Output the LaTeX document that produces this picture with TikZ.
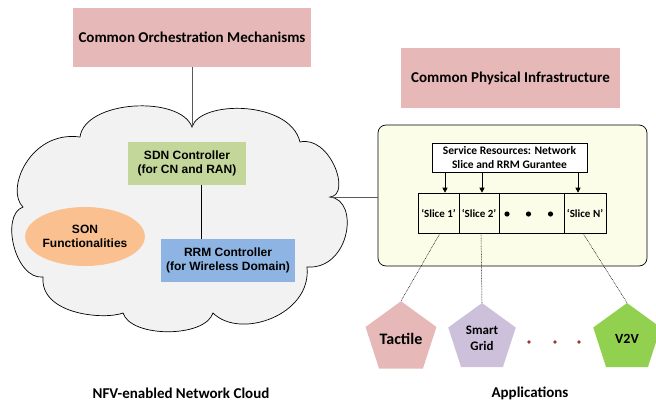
\documentclass[tikz,border=0pt]{standalone}
\usepackage{fontspec}
\setmainfont{Carlito}
\newfontfamily\arialf{Liberation Sans}
\usetikzlibrary{shapes.geometric,arrows.meta}
\definecolor{pinkbox}{HTML}{E6B8B7}
\definecolor{cloudfill}{HTML}{F2F2F2}
\definecolor{sdngreen}{HTML}{C4D79B}
\definecolor{rrmblue}{HTML}{8DB4E2}
\definecolor{sonorange}{HTML}{FAC090}
\definecolor{infrayellow}{HTML}{FCFDE8}
\definecolor{gridlav}{HTML}{CCC0DA}
\definecolor{v2vgreen}{HTML}{92D050}
\definecolor{dotred}{HTML}{A0362F}
\definecolor{linegray}{HTML}{595959}
\begin{document}
\begin{tikzpicture}[x=1pt,y=-1pt,
  titlebox/.style={fill=pinkbox, inner sep=0pt, font=\fontsize{15}{17}\selectfont\bfseries},
  ctrlbox/.style={inner sep=0pt, align=center, font=\arialf\bfseries\fontsize{12}{14.5}\selectfont},
  cellbox/.style={draw, line width=0.6pt, minimum height=40pt, inner sep=0pt, font=\fontsize{11}{13}\selectfont\bfseries},
  pent/.style={regular polygon, regular polygon sides=5, minimum size=71pt, inner sep=0pt, align=center, font=\fontsize{14}{15}\selectfont\bfseries},
  conn/.style={draw=linegray, line width=0.9pt},
  arr/.style={line width=0.6pt, -{Triangle[length=5pt,width=5pt]}},
  dotln/.style={line width=0.5pt, dash pattern=on 0.8pt off 0.8pt},
  caption/.style={inner sep=0pt, font=\fontsize{15}{17}\selectfont\bfseries}
]
\useasboundingbox (0,0) rectangle (656,405);

% Cloud
\coordinate (cTop) at (192,127);
\coordinate (cRight) at (330,197);
\draw[fill=cloudfill, line width=0.7pt]
  (192,127) .. controls (200,100) and (290,100) .. (300,142)
  .. controls (330,135) and (352,195) .. (330,197)
  .. controls (360,200) and (350,270) .. (307,267)
  .. controls (312,315) and (240,340) .. (213,313)
  .. controls (205,338) and (131,338) .. (123,313)
  .. controls (105,320) and (40,315) .. (43,277)
  .. controls (15,280) and (0,215) .. (23,207)
  .. controls (5,190) and (30,130) .. (80,137)
  .. controls (85,100) and (180,95) .. (192,127) -- cycle;

% Top boxes
\node[titlebox, minimum width=238pt, minimum height=59pt] (orch) at (192,37.5) {Common Orchestration Mechanisms};
\node[titlebox, minimum width=219pt, minimum height=60pt] (phys) at (510.5,78) {Common Physical Infrastructure};

\draw[conn] (orch.south) -- (cTop);

% Cloud contents
\node[ctrlbox, fill=sdngreen, minimum width=118pt, minimum height=43pt] (sdn) at (187,163.5) {SDN Controller\\(for CN and RAN)};
\node[ctrlbox, fill=rrmblue, minimum width=134pt, minimum height=43pt] (rrm) at (228,260.5) {RRM Controller\\(for Wireless Domain)};
\node[ctrlbox, ellipse, fill=sonorange, minimum width=106pt, minimum height=59pt] (son) at (85,236.5) {SON\\Functionalities};
\draw[line width=0.7pt] (sdn.south -| 201,0) -- (rrm.north -| 201,0);

% Infrastructure box
\node[draw, line width=0.7pt, rounded corners=8pt, fill=infrayellow, minimum width=269pt, minimum height=141pt, inner sep=0pt] (infra) at (512.5,195.5) {};
\draw[conn] (cRight) -- (cRight -| infra.west);

\node[draw, line width=0.6pt, fill=white, minimum width=155pt, minimum height=29pt, inner sep=0pt, align=center, font=\fontsize{11.5}{14.5}\selectfont\bfseries] (svc) at (509.5,157.5) {Service Resources: Network\\Slice and RRM Gurantee};

\node[cellbox, minimum width=41pt] (s1) at (438.5,213) {‘Slice 1’};
\node[cellbox, minimum width=40pt] (s2) at (479,213) {‘Slice 2’};
\node[cellbox, minimum width=65pt] (sd) at (531.5,213) {};
\node[cellbox, minimum width=42pt] (sn) at (585,213) {‘Slice N’};
\fill (507,214) circle (2.6pt) (528.5,214) circle (2.6pt) (550.5,214) circle (2.6pt);

\draw[arr] ([xshift=6.5pt]s1.north |- svc.south) -- ([xshift=6.5pt]s1.north);
\draw[arr] ([xshift=3pt]s2.north |- svc.south) -- ([xshift=3pt]s2.north);
\draw[arr] ([xshift=-7pt]sn.north |- svc.south) -- ([xshift=-7pt]sn.north);

% Applications
\node[pent, fill=pinkbox, font=\fontsize{16}{17}\selectfont\bfseries] (tact) at (401,338.5) {Tactile};
\node[pent, fill=gridlav, font=\fontsize{13}{15.5}\selectfont\bfseries] (grid) at (482,338.5) {Smart\\Grid};
\node[pent, fill=v2vgreen] (v2v) at (627,338.5) {V2V};
\fill[dotred] (529,342) circle (1.8pt) (555,342) circle (1.8pt) (579,342) circle (1.8pt);

\draw[dotln] ([xshift=1.5pt]s1.south) -- (tact.corner 1);
\draw[dotln] ([xshift=2pt]s2.south) -- (grid.corner 1);
\draw[dotln] ([xshift=-2pt]sn.south) -- (v2v.corner 1);

% Captions
\node[caption] (cap1) at (181,393) {NFV-enabled Network Cloud};
\node[caption] (cap2) at (530,393) {Applications};
\end{tikzpicture}
\end{document}
